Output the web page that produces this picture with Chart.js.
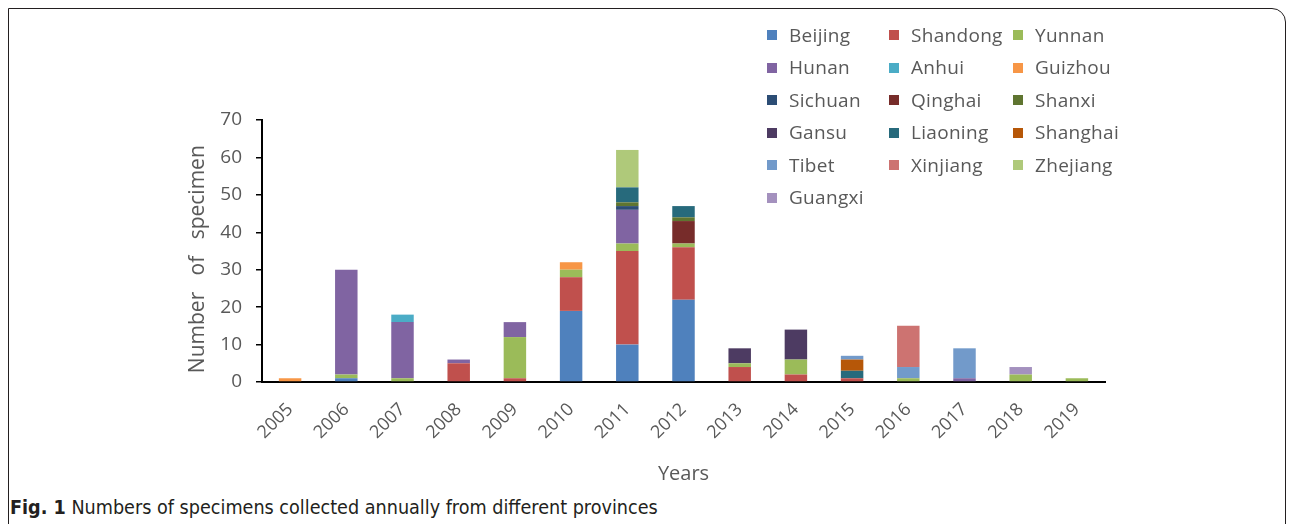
<!DOCTYPE html>
<html>
<head>
<meta charset="utf-8">
<script src="https://cdn.jsdelivr.net/npm/chart.js@4.4.1/dist/chart.umd.min.js"></script>
<style>
  html, body { margin: 0; padding: 0; background: #fff; }
  #page { position: relative; width: 1292px; height: 524px; overflow: hidden; background: #fff; }
  #frame { position: absolute; left: 8px; top: 8px; width: 1278px; height: 540px;
           border: 1px solid #231f20; border-top-right-radius: 14px; box-sizing: border-box; }
  #chartWrap { position: absolute; left: 0; top: 0; width: 1292px; height: 495px; }
  #legend { position: absolute; left: 0; top: 0; }
  .li { position: absolute; display: flex; align-items: center; font-family: "Open Sans", sans-serif;
        font-size: 19px; letter-spacing: 0.3px; color: #595959; white-space: nowrap; line-height: 1; }
  .sw { width: 10px; height: 10px; margin-right: 12px; flex: none; }
  #caption { position: absolute; left: 10px; top: 496px; font-family: "Liberation Sans Narrow", "DejaVu Sans Condensed", sans-serif;
             font-stretch: condensed; font-size: 19.6px; color: #231f20; white-space: nowrap; }
</style>
</head>
<body>
<div id="page">
  <div id="frame"></div>
  <div id="chartWrap"><canvas id="c"></canvas></div>
  <div id="legend"></div>
  <div id="caption"><b>Fig. 1</b> Numbers of specimens collected annually from different provinces</div>
</div>
<script>
const years = ["2005","2006","2007","2008","2009","2010","2011","2012","2013","2014","2015","2016","2017","2018","2019"];
const provinces = ["Beijing","Shandong","Yunnan","Hunan","Anhui","Guizhou","Sichuan","Qinghai","Shanxi","Gansu","Liaoning","Shanghai","Tibet","Xinjiang","Zhejiang","Guangxi"];
const colors = ["#4F81BD","#C0504D","#9BBB59","#8064A2","#4BACC6","#F79646","#2C4D75","#772C2A","#5F7530","#4D3B62","#276A7C","#B65708","#729ACA","#CD7371","#AFC97A","#A491BE"];
const yTicks = [0,10,20,30,40,50,60,70];

const beijing  = [0,1,0,0,0,19,10,22,0,0,0,0,0,0,0];
const shandong = [0,0,0,5,1,9,25,14,4,2,1,0,0,0,0];
const yunnan   = [0,1,1,0,11,2,2,1,1,4,0,1,0,2,1];
const hunan    = [0,28,15,1,4,0,9,0,0,0,0,0,1,0,0];
const anhui    = [0,0,2,0,0,0,0,0,0,0,0,0,0,0,0];
const guizhou  = [1,0,0,0,0,2,0,0,0,0,0,0,0,0,0];
const sichuan  = [0,0,0,0,0,0,1,0,0,0,0,0,0,0,0];
const qinghai  = [0,0,0,0,0,0,0,6,0,0,0,0,0,0,0];
const shanxi   = [0,0,0,0,0,0,1,1,0,0,0,0,0,0,0];
const gansu    = [0,0,0,0,0,0,0,0,4,8,0,0,0,0,0];
const liaoning = [0,0,0,0,0,0,4,3,0,0,2,0,0,0,0];
const shanghai = [0,0,0,0,0,0,0,0,0,0,3,0,0,0,0];
const tibet    = [0,0,0,0,0,0,0,0,0,0,1,3,8,0,0];
const xinjiang = [0,0,0,0,0,0,0,0,0,0,0,11,0,0,0];
const zhejiang = [0,0,0,0,0,0,10,0,0,0,0,0,0,0,0];
const guangxi  = [0,0,0,0,0,0,0,0,0,0,0,0,0,2,0];

const series = [beijing,shandong,yunnan,hunan,anhui,guizhou,sichuan,qinghai,shanxi,gansu,liaoning,shanghai,tibet,xinjiang,zhejiang,guangxi];

const datasets = provinces.map((p, i) => ({
  label: p,
  data: series[i],
  backgroundColor: colors[i],
  borderWidth: 0,
  barPercentage: 0.4,
  categoryPercentage: 1.0
}));

const gray = "#595959";
const PLOT_LEFT = 262, PLOT_RIGHT = 1105, PLOT_TOP = 120, PLOT_BOTTOM = 382, CANVAS_H = 495;

new Chart(document.getElementById("c"), {
  type: "bar",
  data: { labels: years, datasets },
  options: {
    responsive: true,
    maintainAspectRatio: false,
    animation: false,
    layout: { padding: { left: 185, right: 1292 - PLOT_RIGHT, top: PLOT_TOP, bottom: 0 } },
    plugins: { legend: { display: false }, tooltip: { enabled: false } },
    scales: {
      x: {
        stacked: true,
        grid: { display: true, drawOnChartArea: false, drawTicks: false },
        border: { display: true, color: "#000", width: 2 },
        ticks: { color: gray, font: { family: "Open Sans", size: 18 }, minRotation: 45, maxRotation: 45, padding: 17, autoSkip: false },
        title: { display: true, text: "Years", color: gray, font: { family: "Open Sans", size: 20 }, padding: { top: 0, bottom: 9 } },
        afterFit: (s) => { s.height = CANVAS_H - PLOT_BOTTOM; }
      },
      y: {
        stacked: true,
        min: 0, max: 70,
        afterBuildTicks: (s) => { s.ticks = yTicks.map(v => ({ value: v })); },
        grid: { drawOnChartArea: false, drawTicks: true, tickLength: 6, color: "#000", lineWidth: 1.5 },
        border: { display: true, color: "#000", width: 2 },
        ticks: { color: gray, font: { family: "Open Sans", size: 19 }, padding: 14 },
        title: { display: true, text: "Number   of   specimen   ", color: gray, font: { family: "Open Sans", size: 21 }, padding: 0 },
        afterFit: (s) => { s.width = PLOT_LEFT - 185; }
      }
    }
  }
});

// HTML legend built from the same arrays
const legend = document.getElementById("legend");
const colX = [767, 889, 1013];
const rowY = [35, 67.5, 100, 132.5, 165, 197.5];
provinces.forEach((p, i) => {
  const col = i % 3, row = Math.floor(i / 3);
  const el = document.createElement("div");
  el.className = "li";
  el.style.left = colX[col] + "px";
  el.style.top = (rowY[row] - 10) + "px";
  el.style.height = "20px";
  const sw = document.createElement("span");
  sw.className = "sw";
  sw.style.background = colors[i];
  el.appendChild(sw);
  el.appendChild(document.createTextNode(p));
  legend.appendChild(el);
});
</script>
</body>
</html>
